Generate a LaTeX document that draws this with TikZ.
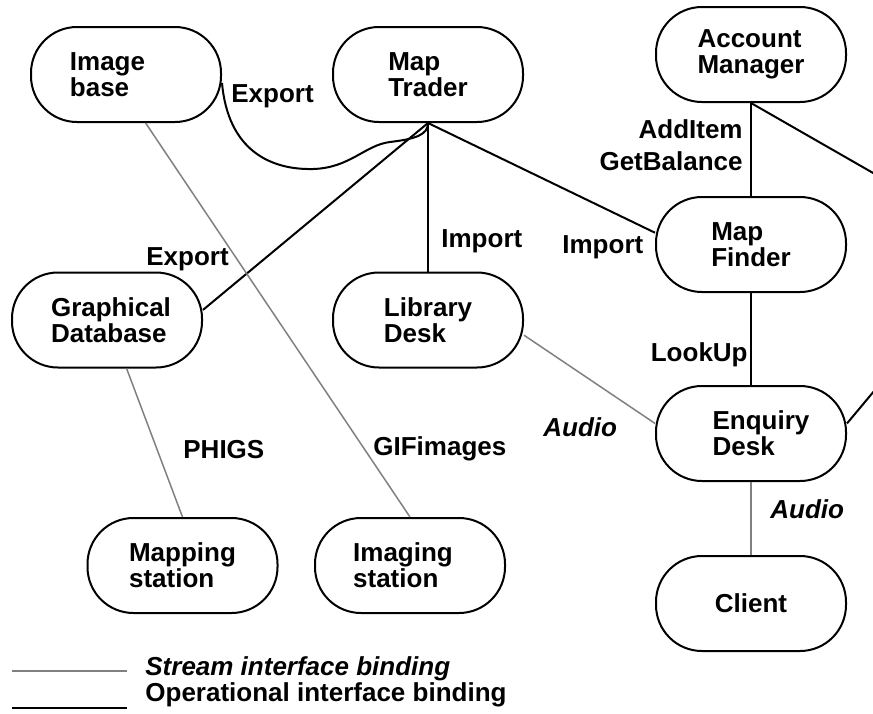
\documentclass[tikz,border=0pt]{standalone}
\usepackage{fontspec}
\setmainfont{Liberation Sans}
\begin{document}
\begin{tikzpicture}[x=0.5pt,y=-0.5pt,
  obj node/.style={rectangle,rounded corners=23pt,draw,line width=1pt,align=left,
    font=\fontsize{13}{13}\selectfont\bfseries,minimum width=95pt,minimum height=47.5pt,inner sep=0pt},
  lbl/.style={font=\fontsize{13}{13}\selectfont\bfseries,inner sep=0pt},
  op line/.style={line width=1pt,black},
  stream line/.style={line width=0.75pt,gray}]

  \useasboundingbox (0,0) rectangle (873,713);
  \clip (0,0) rectangle (873,713);

  \node[obj node] (imgbase) at (126,74.5) {Image\hspace*{18.5pt}\\base};
  \node[obj node] (trader) at (428,74.5) {Map\\Trader};
  \node[obj node] (account) at (751,54.5) {Account\\Manager};
  \node[obj node] (finder) at (751,244.5) {Map\\Finder};
  \node[obj node] (graphdb) at (107,320) {\hspace*{4pt}Graphical\\\hspace*{4pt}Database};
  \node[obj node] (library) at (428,320) {Library\\Desk};
  \node[obj node] (enquiry) at (751,433.5) {\hspace*{10pt}Enquiry\\\hspace*{10pt}Desk};
  \node[obj node] (mapping) at (182.5,565.5) {Mapping\\station};
  \node[obj node] (imaging) at (410,565.5) {Imaging\hspace*{7pt}\\station};
  \node[obj node] (client) at (751,603.5) {Client};
  \coordinate (bank) at (997,244);

  \path[op line]
   (trader.south) edge (library.north)
   (trader.south) edge (finder.173)
   (trader.south) edge (graphdb.6)
   (account.south) edge (finder.north)
   (account.south) edge (bank)
   (finder.south) edge (enquiry.north)
   (enquiry.6) edge (bank);
  \draw[op line] (imgbase.-5) .. controls (228,150) and (270,170) .. (313,169)
    .. controls (350,168) and (365,145) .. (390,142)
    .. controls (415,139) and (428,135) .. (trader.south);

  \path[stream line]
   (imgbase.-68) edge (imaging.north)
   (graphdb.-68) edge (mapping.north)
   (library.-9) edge (enquiry.174)
   (enquiry.south) edge (client.north);

  \node[lbl,anchor=base west] (exporttop) at (231,102) {Export};
  \node[lbl,anchor=base west] (exportdb) at (146,265) {Export};
  \node[lbl,anchor=base west] (importlib) at (441,247) {Import};
  \node[lbl,anchor=base west] (importfind) at (562,253) {Import};
  \node[lbl,anchor=base east] (additem) at (743,138) {AddItem};
  \node[lbl,anchor=base east] (getbal) at (743,170) {GetBalance};
  \node[lbl,anchor=base east] (lookup) at (748,361) {LookUp};
  \node[lbl,anchor=base west] (phigs) at (183,458) {PHIGS};
  \node[lbl,anchor=base west] (gif) at (373,455) {GIFimages};
  \node[lbl,anchor=base west] (audioleft) at (543,436) {\itshape Audio};
  \node[lbl,anchor=base west] (audioright) at (770,518) {\itshape Audio};

  % legend
  \coordinate (s1) at (12,671);
  \coordinate (s2) at (127,671);
  \coordinate (o1) at (12,708);
  \coordinate (o2) at (127,708);
  \draw[stream line] (s1) -- (s2);
  \draw[op line] (o1) -- (o2);
  \node[lbl,anchor=base west] (streamtxt) at (145,675) {\itshape Stream interface binding};
  \node[lbl,anchor=base west] (optxt) at (145,701) {Operational interface binding};
\end{tikzpicture}
\end{document}
